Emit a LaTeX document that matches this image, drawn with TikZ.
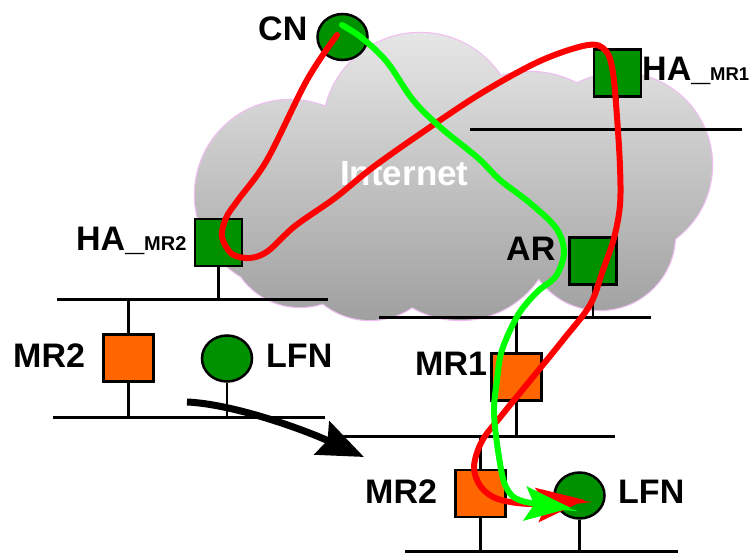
\documentclass[tikz,border=0pt]{standalone}
\usepackage{fontspec}
\setmainfont{Liberation Sans}
\usetikzlibrary{arrows.meta,shapes.geometric}
\definecolor{boxgreen}{RGB}{0,145,0}
\definecolor{mrorange}{RGB}{255,102,0}
\definecolor{pathgreen}{RGB}{0,255,0}
\definecolor{pathred}{RGB}{255,0,0}
\definecolor{cloudedge}{RGB}{240,190,240}
\definecolor{cloudtop}{RGB}{230,230,230}
\definecolor{cloudbot}{RGB}{160,160,160}
\tikzset{
  hostbox/.style={draw=black, line width=2.5pt, fill=boxgreen, minimum width=47pt, minimum height=47pt, inner sep=0pt},
  mrbox/.style={draw=black, line width=2.5pt, fill=mrorange, minimum width=50pt, minimum height=47pt, inner sep=0pt},
  hostcirc/.style={draw=black, line width=2.5pt, fill=boxgreen, ellipse, minimum width=50pt, minimum height=46pt, inner sep=0pt},
  lanline/.style={line width=3pt, black},
  stubline/.style={line width=2.5pt, black},
  lbl/.style={font=\fontsize{34}{40}\selectfont\bfseries, anchor=base west, inner sep=0pt},
  flowred/.style={line width=6pt, pathred, line cap=round, -{Stealth[length=48pt,width=34pt,inset=9pt]}},
  flowgreen/.style={line width=6pt, pathgreen, line cap=round, -{Stealth[length=46pt,width=34pt,inset=9pt]}},
  movearrow/.style={line width=7pt, black, -{Stealth[length=46pt,width=36pt,inset=6pt]}}
}
\begin{document}
\begin{tikzpicture}[x=1pt,y=-1pt]
\useasboundingbox (0,0) rectangle (750,554);
% cloud
\def\cloudpath{(290,195) circle [radius=95pt]
  (300,235) circle [radius=72pt]
  (420,130) circle [radius=97pt]
  (530,172) circle [radius=100pt]
  (620,165) circle [radius=92pt]
  (600,235) circle [radius=75pt]
  (460,225) circle [radius=95pt]
  (370,245) circle [radius=75pt]}
\fill[cloudedge] (290,195) circle [radius=96.2pt]
  (300,235) circle [radius=73.2pt]
  (420,130) circle [radius=98.2pt]
  (530,172) circle [radius=101.2pt]
  (620,165) circle [radius=93.2pt]
  (600,235) circle [radius=76.2pt]
  (460,225) circle [radius=96.2pt]
  (370,245) circle [radius=76.2pt];
\shade[top color=cloudtop, bottom color=cloudbot] \cloudpath;
\node[lbl, white, font=\fontsize{35}{40}\selectfont\bfseries] (inet) at (340,185) {Internet};

% LAN coordinates
\coordinate (l1a) at (470,129);  \coordinate (l1b) at (742,129);
\coordinate (l2a) at (57,299);   \coordinate (l2b) at (328,299);
\coordinate (l3a) at (53,417);   \coordinate (l3b) at (325,417);
\coordinate (l4a) at (379,317);  \coordinate (l4b) at (651,317);
\coordinate (l5a) at (343,436);  \coordinate (l5b) at (615,436);
\coordinate (l6a) at (405,551);  \coordinate (l6b) at (678,551);
\foreach \a/\b in {l1a/l1b,l2a/l2b,l3a/l3b,l4a/l4b,l5a/l5b,l6a/l6b}
  \draw[lanline] (\a) -- (\b);

% nodes
\node[hostcirc, minimum width=50pt, minimum height=46pt] (cn) at (342.5,37) {};
\node[hostbox] (hamr1) at (617.5,73) {};
\node[hostbox] (hamr2) at (218.5,242.5) {};
\node[hostbox] (ar) at (593,261) {};
\node[mrbox] (mr1) at (516.5,377) {};
\node[mrbox] (mr2a) at (128.5,358) {};
\node[hostcirc] (lfna) at (227,358.5) {};
\node[mrbox] (mr2b) at (480.5,493.5) {};
\node[hostcirc] (lfnb) at (579.5,495.5) {};

% stubs
\draw[stubline] (hamr1.south) -- (hamr1.south |- l1a);
\draw[stubline] (hamr2.south) -- (hamr2.south |- l2a);
\draw[stubline] (mr2a.north) -- (mr2a.north |- l2a);
\draw[stubline] (mr2a.south) -- (mr2a.south |- l3a);
\draw[stubline] (lfna.south) -- (lfna.south |- l3a);
\draw[stubline] (ar.south) -- (ar.south |- l4a);
\draw[stubline] (mr1.north) -- (mr1.north |- l4a);
\draw[stubline] (mr1.south) -- (mr1.south |- l5a);
\draw[stubline] (mr2b.north) -- (mr2b.north |- l5a);
\draw[stubline] (mr2b.south) -- (mr2b.south |- l6a);
\draw[stubline] (lfnb.south) -- (lfnb.south |- l6a);

% labels
\node[lbl] (lcn) at (258,40) {CN};
\node[lbl] (lha1) at (642,80) {HA\_{\fontsize{18.5}{22}\selectfont MR1}};
\node[lbl] (lha2) at (76,250) {HA\_{\fontsize{20}{22}\selectfont MR2}};
\node[lbl] (lar) at (506,260) {AR};
\node[lbl] (lmr2a) at (13,367) {MR2};
\node[lbl] (llfna) at (266,367) {LFN};
\node[lbl] (lmr1) at (415,375) {MR1};
\node[lbl] (lmr2b) at (365,503) {MR2};
\node[lbl] (llfnb) at (618,503) {LFN};

% movement arrow
\coordinate (mvs) at (187,402);
\coordinate (mve) at (364,457);
\draw[movearrow] (mvs) .. controls (232,404) and (300,428) .. (mve);

% flows
\coordinate (redstart) at (337,35);
\coordinate (redtip) at (585,500);
\draw[flowred] plot[smooth, tension=0.55] coordinates {
  (redstart) (307,80) (267,160) (238,200) (226,218) (222,237) (232,254) (250,258)
  (268,251) (295,226) (335,198) (372,168) (420,134) (480,94) (540,61) (588,45)
  (606,51) (613,73) (617,117) (620,167) (620,205) (614,238) (603,270) (590,305)
  (563,340) (533,377) (502,415) (482,441) (474,467) (481,487) (498,499) (532,504) (redtip)};
\coordinate (grnstart) at (342,25);
\coordinate (grntip) at (571,508);
\draw[flowgreen] plot[smooth, tension=0.55] coordinates {
  (grnstart) (362,38) (387,62) (413,100) (440,127) (478,158) (500,180) (530,203)
  (556,228) (564,252) (556,276) (537,292) (518,315) (502,350) (497,380) (494,413)
  (499,457) (506,487) (522,501) (grntip)};
\end{tikzpicture}
\end{document}
